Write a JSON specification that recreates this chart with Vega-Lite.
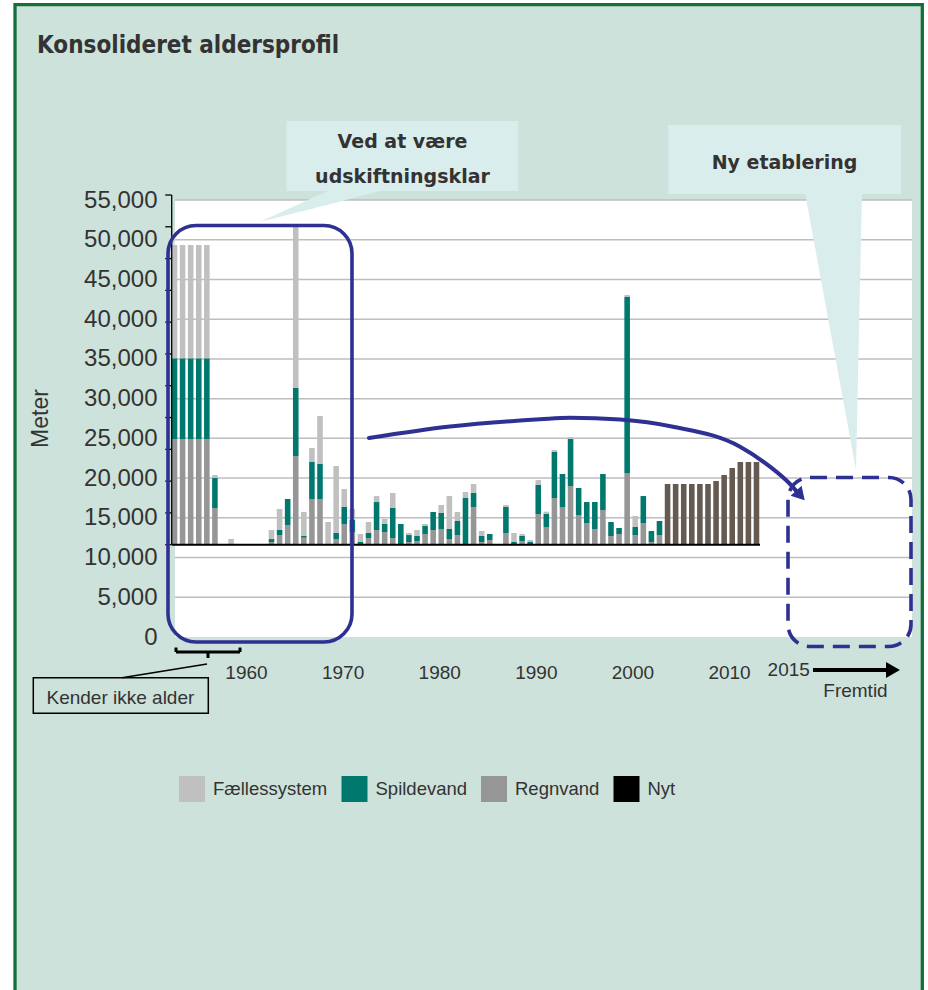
{
  "$schema": "https://vega.github.io/schema/vega-lite/v6.json",
  "width": 737,
  "height": 437,
  "autosize": {"type": "none"},
  "padding": {"left": 175, "top": 200, "right": 16, "bottom": 353},
  "background": "#ffffff",
  "view": {"stroke": null, "fill": null},
  "config": {
    "font": "Liberation Sans",
    "axis": {"labelFont": "Liberation Sans", "titleFont": "Liberation Sans"},
    "text": {"font": "Liberation Sans"}
  },
  "resolve": {"scale": {"x": "independent", "y": "independent", "color": "independent"}, "axis": {"x": "independent", "y": "independent"}, "legend": {"color": "independent"}},
  "layer": [
    {
      "data": {"values": [{"type": "Fællessystem"}, {"type": "Spildevand"}, {"type": "Regnvand"}, {"type": "Nyt"}]},
      "mark": {"type": "point", "shape": "square", "filled": true, "size": 676, "opacity": 1},
      "encoding": {
        "x": {"datum": 1990, "type": "quantitative", "scale": {"domain": [1952.651, 2028.94], "nice": false, "zero": false}, "axis": null},
        "y": {"datum": 20000, "type": "quantitative", "scale": {"domain": [0, 55000], "nice": false, "zero": false}, "axis": null},
        "color": {
          "field": "type", "type": "nominal",
          "scale": {"domain": ["Fællessystem", "Spildevand", "Regnvand", "Nyt"], "range": ["#C0C0C0", "#00786E", "#969696", "#000000"]},
          "legend": {
            "orient": "none",
            "legendX": 4,
            "legendY": 576,
            "direction": "horizontal",
            "title": null,
            "padding": 0,
            "symbolType": "square",
            "symbolSize": 676,
            "symbolStrokeWidth": 0,
            "symbolOpacity": 1,
            "labelFont": "Liberation Sans",
            "labelFontSize": 18.5,
            "labelColor": "#333333",
            "labelOffset": 8,
            "columnPadding": 13.5
          }
        }
      }
    },
    {
      "data": {"values": [{"x1": 1936.09, "x2": 2030.01, "y1": 79580, "y2": -45686}]},
      "mark": {"type": "rect", "fill": "#CDE2DA", "stroke": "#11703D", "strokeWidth": 3.3},
      "encoding": {
        "x": {"field": "x1", "type": "quantitative", "scale": {"domain": [1952.651, 2028.94], "nice": false, "zero": false}, "axis": null},
        "x2": {"field": "x2"},
        "y": {"field": "y1", "type": "quantitative", "scale": {"domain": [0, 55000], "nice": false, "zero": false}, "axis": null},
        "y2": {"field": "y2"}
      }
    },
    {
      "data": {"values": [{"x1": 1952.651, "x2": 2028.94, "y1": 0, "y2": 55000}]},
      "mark": {"type": "rect", "fill": "#ffffff"},
      "encoding": {
        "x": {"field": "x1", "type": "quantitative", "scale": {"domain": [1952.651, 2028.94], "nice": false, "zero": false}, "axis": null},
        "x2": {"field": "x2"},
        "y": {"field": "y1", "type": "quantitative", "scale": {"domain": [0, 55000], "nice": false, "zero": false}, "axis": null},
        "y2": {"field": "y2"}
      }
    },
    {
      "data": {"values": [{"v": 5000}, {"v": 10000}, {"v": 15000}, {"v": 20000}, {"v": 25000}, {"v": 30000}, {"v": 35000}, {"v": 40000}, {"v": 45000}, {"v": 50000}, {"v": 55000}]},
      "mark": {"type": "rule", "color": "#BEBEBE", "strokeWidth": 1.5},
      "encoding": {
        "y": {
          "field": "v", "type": "quantitative",
          "scale": {"domain": [0, 55000], "nice": false, "zero": false},
          "axis": {
            "orient": "left",
            "values": [0, 5000, 10000, 15000, 20000, 25000, 30000, 35000, 40000, 45000, 50000, 55000],
            "format": ",.0f",
            "labelFontSize": 24,
            "labelColor": "#333333",
            "labelPadding": 18,
            "ticks": false,
            "tickSize": 0,
            "domain": false,
            "grid": false,
            "zindex": 2,
            "title": "Meter",
            "titleFontSize": 23,
            "titleFontWeight": "normal",
            "titleColor": "#333333",
            "titleX": -135,
            "titleY": 218,
            "titleAngle": -90,
            "titleAlign": "center",
            "titleBaseline": "middle"
          }
        }
      }
    },
    {
      "data": {"values": [{"x": 1961.449, "top": 52269, "bot": 52269}, {"x": 1968.695, "top": 56259, "bot": 54463}, {"x": 1974.212, "top": 56259, "bot": 56259}]},
      "mark": {"type": "area", "color": "#DAEDED", "orient": "vertical", "interpolate": "linear"},
      "encoding": {
        "x": {"field": "x", "type": "quantitative", "scale": {"domain": [1952.651, 2028.94], "nice": false, "zero": false}, "axis": null},
        "y": {"field": "top", "type": "quantitative", "scale": {"domain": [0, 55000], "nice": false, "zero": false}, "axis": null},
        "y2": {"field": "bot"}
      }
    },
    {
      "data": {"values": [{"v": 55881, "l": 2017.864, "r": 2023.764}, {"v": 21018, "l": 2023.143, "r": 2023.143}]},
      "mark": {"type": "area", "color": "#DAEDED", "orient": "horizontal", "interpolate": "linear"},
      "encoding": {
        "y": {"field": "v", "type": "quantitative", "scale": {"domain": [0, 55000], "nice": false, "zero": false}, "axis": null},
        "x": {"field": "l", "type": "quantitative", "scale": {"domain": [1952.651, 2028.94], "nice": false, "zero": false}, "axis": null},
        "x2": {"field": "r"}
      }
    },
    {
      "data": {"values": [
        {"aar": "Ukendt 1", "type": "Regnvand", "meter": 16625}, {"aar": "Ukendt 1", "type": "Spildevand", "meter": 12690}, {"aar": "Ukendt 1", "type": "Fællessystem", "meter": 17820},
        {"aar": "Ukendt 2", "type": "Regnvand", "meter": 16625}, {"aar": "Ukendt 2", "type": "Spildevand", "meter": 12690}, {"aar": "Ukendt 2", "type": "Fællessystem", "meter": 17820},
        {"aar": "Ukendt 3", "type": "Regnvand", "meter": 16625}, {"aar": "Ukendt 3", "type": "Spildevand", "meter": 12690}, {"aar": "Ukendt 3", "type": "Fællessystem", "meter": 17820},
        {"aar": "Ukendt 4", "type": "Regnvand", "meter": 16625}, {"aar": "Ukendt 4", "type": "Spildevand", "meter": 12690}, {"aar": "Ukendt 4", "type": "Fællessystem", "meter": 17820},
        {"aar": "Ukendt 5", "type": "Regnvand", "meter": 16625}, {"aar": "Ukendt 5", "type": "Spildevand", "meter": 12690}, {"aar": "Ukendt 5", "type": "Fællessystem", "meter": 17820},
        {"aar": "1947", "type": "Regnvand", "meter": 5770}, {"aar": "1947", "type": "Spildevand", "meter": 4720}, {"aar": "1947", "type": "Fællessystem", "meter": 470},
        {"aar": "1949", "type": "Fællessystem", "meter": 900},
        {"aar": "1954", "type": "Regnvand", "meter": 420}, {"aar": "1954", "type": "Spildevand", "meter": 470}, {"aar": "1954", "type": "Fællessystem", "meter": 1415},
        {"aar": "1955", "type": "Regnvand", "meter": 1525}, {"aar": "1955", "type": "Spildevand", "meter": 790}, {"aar": "1955", "type": "Fællessystem", "meter": 3300},
        {"aar": "1956", "type": "Regnvand", "meter": 3100}, {"aar": "1956", "type": "Spildevand", "meter": 4090},
        {"aar": "1957", "type": "Regnvand", "meter": 13950}, {"aar": "1957", "type": "Spildevand", "meter": 10695}, {"aar": "1957", "type": "Fællessystem", "meter": 25370},
        {"aar": "1958", "type": "Regnvand", "meter": 1100}, {"aar": "1958", "type": "Spildevand", "meter": 315}, {"aar": "1958", "type": "Fællessystem", "meter": 3730},
        {"aar": "1959", "type": "Regnvand", "meter": 7190}, {"aar": "1959", "type": "Spildevand", "meter": 5820}, {"aar": "1959", "type": "Fællessystem", "meter": 2200},
        {"aar": "1960", "type": "Regnvand", "meter": 7190}, {"aar": "1960", "type": "Spildevand", "meter": 5505}, {"aar": "1960", "type": "Fællessystem", "meter": 7550},
        {"aar": "1961", "type": "Fællessystem", "meter": 3570},
        {"aar": "1962", "type": "Regnvand", "meter": 895}, {"aar": "1962", "type": "Spildevand", "meter": 945}, {"aar": "1962", "type": "Fællessystem", "meter": 10540},
        {"aar": "1963", "type": "Regnvand", "meter": 3255}, {"aar": "1963", "type": "Spildevand", "meter": 2675}, {"aar": "1963", "type": "Fællessystem", "meter": 2830},
        {"aar": "1964", "type": "Regnvand", "meter": 2000}, {"aar": "1964", "type": "Spildevand", "meter": 1890}, {"aar": "1964", "type": "Fællessystem", "meter": 1730},
        {"aar": "1965", "type": "Regnvand", "meter": 110}, {"aar": "1965", "type": "Spildevand", "meter": 315}, {"aar": "1965", "type": "Fællessystem", "meter": 1260},
        {"aar": "1966", "type": "Regnvand", "meter": 1050}, {"aar": "1966", "type": "Spildevand", "meter": 790}, {"aar": "1966", "type": "Fællessystem", "meter": 1730},
        {"aar": "1967", "type": "Regnvand", "meter": 2310}, {"aar": "1967", "type": "Spildevand", "meter": 4400}, {"aar": "1967", "type": "Fællessystem", "meter": 945},
        {"aar": "1968", "type": "Regnvand", "meter": 2000}, {"aar": "1968", "type": "Spildevand", "meter": 1260}, {"aar": "1968", "type": "Fællessystem", "meter": 790},
        {"aar": "1969", "type": "Regnvand", "meter": 1050}, {"aar": "1969", "type": "Spildevand", "meter": 4720}, {"aar": "1969", "type": "Fællessystem", "meter": 2360},
        {"aar": "1970", "type": "Spildevand", "meter": 3255},
        {"aar": "1971", "type": "Regnvand", "meter": 420}, {"aar": "1971", "type": "Spildevand", "meter": 1100}, {"aar": "1971", "type": "Fællessystem", "meter": 315},
        {"aar": "1972", "type": "Regnvand", "meter": 580}, {"aar": "1972", "type": "Spildevand", "meter": 790}, {"aar": "1972", "type": "Fællessystem", "meter": 945},
        {"aar": "1973", "type": "Regnvand", "meter": 1680}, {"aar": "1973", "type": "Spildevand", "meter": 1260}, {"aar": "1973", "type": "Fællessystem", "meter": 315},
        {"aar": "1974", "type": "Regnvand", "meter": 2310}, {"aar": "1974", "type": "Spildevand", "meter": 2830},
        {"aar": "1975", "type": "Regnvand", "meter": 2470}, {"aar": "1975", "type": "Spildevand", "meter": 2515}, {"aar": "1975", "type": "Fællessystem", "meter": 1260},
        {"aar": "1976", "type": "Regnvand", "meter": 895}, {"aar": "1976", "type": "Spildevand", "meter": 1575}, {"aar": "1976", "type": "Fællessystem", "meter": 5190},
        {"aar": "1977", "type": "Regnvand", "meter": 1525}, {"aar": "1977", "type": "Spildevand", "meter": 2200}, {"aar": "1977", "type": "Fællessystem", "meter": 1415},
        {"aar": "1978", "type": "Spildevand", "meter": 7345}, {"aar": "1978", "type": "Fællessystem", "meter": 945},
        {"aar": "1979", "type": "Regnvand", "meter": 5930}, {"aar": "1979", "type": "Spildevand", "meter": 2200}, {"aar": "1979", "type": "Fællessystem", "meter": 1415},
        {"aar": "1980", "type": "Regnvand", "meter": 420}, {"aar": "1980", "type": "Spildevand", "meter": 945}, {"aar": "1980", "type": "Fællessystem", "meter": 790},
        {"aar": "1981", "type": "Regnvand", "meter": 740}, {"aar": "1981", "type": "Spildevand", "meter": 945},
        {"aar": "1983", "type": "Regnvand", "meter": 1840}, {"aar": "1983", "type": "Spildevand", "meter": 4090}, {"aar": "1983", "type": "Fællessystem", "meter": 315},
        {"aar": "1984", "type": "Regnvand", "meter": 110}, {"aar": "1984", "type": "Spildevand", "meter": 315}, {"aar": "1984", "type": "Fællessystem", "meter": 1415},
        {"aar": "1985", "type": "Regnvand", "meter": 580}, {"aar": "1985", "type": "Spildevand", "meter": 790}, {"aar": "1985", "type": "Fællessystem", "meter": 315},
        {"aar": "1986", "type": "Regnvand", "meter": 110}, {"aar": "1986", "type": "Spildevand", "meter": 315}, {"aar": "1986", "type": "Fællessystem", "meter": 315},
        {"aar": "1987", "type": "Regnvand", "meter": 4830}, {"aar": "1987", "type": "Spildevand", "meter": 4560}, {"aar": "1987", "type": "Fællessystem", "meter": 790},
        {"aar": "1988", "type": "Regnvand", "meter": 2785}, {"aar": "1988", "type": "Spildevand", "meter": 2045}, {"aar": "1988", "type": "Fællessystem", "meter": 360},
        {"aar": "1989", "type": "Regnvand", "meter": 7345}, {"aar": "1989", "type": "Spildevand", "meter": 7235}, {"aar": "1989", "type": "Fællessystem", "meter": 315},
        {"aar": "1990", "type": "Regnvand", "meter": 5930}, {"aar": "1990", "type": "Spildevand", "meter": 5190},
        {"aar": "1991", "type": "Regnvand", "meter": 9230}, {"aar": "1991", "type": "Spildevand", "meter": 7390}, {"aar": "1991", "type": "Fællessystem", "meter": 315},
        {"aar": "1992", "type": "Regnvand", "meter": 4670}, {"aar": "1992", "type": "Spildevand", "meter": 4245},
        {"aar": "1993", "type": "Regnvand", "meter": 3410}, {"aar": "1993", "type": "Spildevand", "meter": 3300},
        {"aar": "1994", "type": "Regnvand", "meter": 2470}, {"aar": "1994", "type": "Spildevand", "meter": 4245},
        {"aar": "1995", "type": "Regnvand", "meter": 5460}, {"aar": "1995", "type": "Spildevand", "meter": 5660},
        {"aar": "1996", "type": "Regnvand", "meter": 1370}, {"aar": "1996", "type": "Spildevand", "meter": 2200},
        {"aar": "1997", "type": "Regnvand", "meter": 1680}, {"aar": "1997", "type": "Spildevand", "meter": 945},
        {"aar": "1998", "type": "Regnvand", "meter": 11275}, {"aar": "1998", "type": "Spildevand", "meter": 27680}, {"aar": "1998", "type": "Fællessystem", "meter": 315},
        {"aar": "1999", "type": "Regnvand", "meter": 1525}, {"aar": "1999", "type": "Spildevand", "meter": 1260}, {"aar": "1999", "type": "Fællessystem", "meter": 1730},
        {"aar": "2000", "type": "Regnvand", "meter": 3410}, {"aar": "2000", "type": "Spildevand", "meter": 4245},
        {"aar": "2001", "type": "Regnvand", "meter": 420}, {"aar": "2001", "type": "Spildevand", "meter": 1730},
        {"aar": "2002", "type": "Regnvand", "meter": 1525}, {"aar": "2002", "type": "Spildevand", "meter": 2200},
        {"aar": "2003", "type": "Nyt", "meter": 9545}, {"aar": "2004", "type": "Nyt", "meter": 9545}, {"aar": "2005", "type": "Nyt", "meter": 9545},
        {"aar": "2006", "type": "Nyt", "meter": 9545}, {"aar": "2007", "type": "Nyt", "meter": 9545}, {"aar": "2008", "type": "Nyt", "meter": 9545},
        {"aar": "2009", "type": "Nyt", "meter": 10020}, {"aar": "2010", "type": "Nyt", "meter": 10960}, {"aar": "2011", "type": "Nyt", "meter": 12060},
        {"aar": "2012", "type": "Nyt", "meter": 13005}, {"aar": "2013", "type": "Nyt", "meter": 13005}, {"aar": "2014", "type": "Nyt", "meter": 13005}
      ]},
      "transform": [
        {"lookup": "type", "from": {"data": {"values": [{"type": "Regnvand", "rang": 1}, {"type": "Spildevand", "rang": 2}, {"type": "Fællessystem", "rang": 3}, {"type": "Nyt", "rang": 4}]}, "key": "type", "fields": ["rang"]}}
      ],
      "mark": {"type": "bar"},
      "encoding": {
        "x": {
          "field": "aar", "type": "nominal",
          "scale": {
            "domain": ["Ukendt 1", "Ukendt 2", "Ukendt 3", "Ukendt 4", "Ukendt 5", "1947", "1948", "1949", "1950", "1951", "1952", "1953", "1954", "1955", "1956", "1957", "1958", "1959", "1960", "1961", "1962", "1963", "1964", "1965", "1966", "1967", "1968", "1969", "1970", "1971", "1972", "1973", "1974", "1975", "1976", "1977", "1978", "1979", "1980", "1981", "1982", "1983", "1984", "1985", "1986", "1987", "1988", "1989", "1990", "1991", "1992", "1993", "1994", "1995", "1996", "1997", "1998", "1999", "2000", "2001", "2002", "2003", "2004", "2005", "2006", "2007", "2008", "2009", "2010", "2011", "2012", "2013", "2014"],
            "range": [-4.54, 585.52],
            "paddingInner": 0.31,
            "paddingOuter": 0.155
          },
          "axis": null
        },
        "y": {"field": "meter", "type": "quantitative", "stack": "zero", "scale": {"domain": [-14517, 54214], "nice": false, "zero": false}, "axis": null},
        "order": {"field": "rang", "type": "quantitative", "sort": "ascending"},
        "color": {
          "field": "type", "type": "nominal",
          "scale": {"domain": ["Fællessystem", "Spildevand", "Regnvand", "Nyt"], "range": ["#C0C0C0", "#00786E", "#969696", "#645A52"]},
          "legend": null
        }
      }
    },
    {
      "data": {"values": [{"v": 0}, {"v": 5000}, {"v": 10000}, {"v": 15000}, {"v": 20000}, {"v": 25000}, {"v": 30000}, {"v": 35000}, {"v": 40000}, {"v": 45000}, {"v": 50000}, {"v": 55000}]},
      "mark": {"type": "rule", "color": "#000000", "strokeWidth": 1.3},
      "encoding": {
        "y": {"field": "v", "type": "quantitative", "scale": {"domain": [-14517, 54214], "nice": false, "zero": false}, "axis": null},
        "x": {"datum": 1951.64, "type": "quantitative", "scale": {"domain": [1952.651, 2028.94], "nice": false, "zero": false}, "axis": null},
        "x2": {"datum": 1952.31}
      }
    },
    {
      "data": {"values": [{}]},
      "mark": {"type": "rule", "color": "#000000", "strokeWidth": 1.3},
      "encoding": {
        "y": {"datum": 0, "type": "quantitative", "scale": {"domain": [-14517, 54214], "nice": false, "zero": false}, "axis": null},
        "y2": {"datum": 55000},
        "x": {"datum": 1952.31, "type": "quantitative", "scale": {"domain": [1952.651, 2028.94], "nice": false, "zero": false}, "axis": null}
      }
    },
    {
      "data": {"values": [{}]},
      "mark": {"type": "rule", "color": "#000000", "strokeWidth": 2},
      "encoding": {
        "y": {"datum": 0, "type": "quantitative", "scale": {"domain": [-14517, 54214], "nice": false, "zero": false}, "axis": null},
        "x": {"datum": 1952.34, "type": "quantitative", "scale": {"domain": [1952.651, 2028.94], "nice": false, "zero": false}, "axis": null},
        "x2": {"datum": 2013.21}
      }
    },
    {
      "data": {"values": [{"x1": 1964.192, "x2": 1988.186, "y1": 64943, "y2": 56133}, {"x1": 2003.714, "x2": 2027.801, "y1": 64439, "y2": 55755}]},
      "mark": {"type": "rect", "fill": "#DAEDED"},
      "encoding": {
        "x": {"field": "x1", "type": "quantitative", "scale": {"domain": [1952.651, 2028.94], "nice": false, "zero": false}, "axis": null},
        "x2": {"field": "x2"},
        "y": {"field": "y1", "type": "quantitative", "scale": {"domain": [0, 55000], "nice": false, "zero": false}, "axis": null},
        "y2": {"field": "y2"}
      }
    },
    {
      "data": {"values": [{"t": "Ved at være", "x": 1976.2, "v": 61507}, {"t": "udskiftningsklar", "x": 1976.2, "v": 57102}, {"t": "Ny etablering", "x": 2015.742, "v": 58864}]},
      "mark": {"type": "text", "font": "DejaVu Sans", "fontWeight": "bold", "fontSize": 19, "color": "#333333", "align": "center", "baseline": "alphabetic"},
      "encoding": {
        "text": {"field": "t"},
        "x": {"field": "x", "type": "quantitative", "scale": {"domain": [1952.651, 2028.94], "nice": false, "zero": false}, "axis": null},
        "y": {"field": "v", "type": "quantitative", "scale": {"domain": [0, 55000], "nice": false, "zero": false}, "axis": null}
      }
    },
    {
      "data": {"values": [{"x1": 1951.926, "x2": 1970.972, "y1": 51791, "y2": -629}]},
      "mark": {"type": "rect", "fill": null, "stroke": "#2E3192", "strokeWidth": 3.6, "cornerRadius": 28},
      "encoding": {
        "x": {
          "field": "x1", "type": "quantitative",
          "scale": {"domain": [1952.651, 2028.94], "nice": false, "zero": false},
          "axis": {
            "orient": "bottom",
            "values": [1960, 1970, 1980, 1990, 2000, 2010],
            "format": "d",
            "labelFontSize": 19,
            "labelColor": "#333333",
            "labelPadding": 26,
            "ticks": false,
            "tickSize": 0,
            "domain": false,
            "grid": false,
            "zindex": 2,
            "title": null
          }
        },
        "x2": {"field": "x2"},
        "y": {"field": "y1", "type": "quantitative", "scale": {"domain": [0, 55000], "nice": false, "zero": false}, "axis": null},
        "y2": {"field": "y2"}
      }
    },
    {
      "data": {"values": [{"x1": 2016.104, "x2": 2028.836, "y1": 20074, "y2": -1196}]},
      "mark": {"type": "rect", "fill": null, "stroke": "#2E3192", "strokeWidth": 3.6, "cornerRadius": 22, "strokeDash": [17, 9]},
      "encoding": {
        "x": {"field": "x1", "type": "quantitative", "scale": {"domain": [1952.651, 2028.94], "nice": false, "zero": false}, "axis": null},
        "x2": {"field": "x2"},
        "y": {"field": "y1", "type": "quantitative", "scale": {"domain": [0, 55000], "nice": false, "zero": false}, "axis": null},
        "y2": {"field": "y2"}
      }
    },
    {
      "data": {"values": [
        {"x": 1972.73, "v": 25046}, {"x": 1981.12, "v": 26493}, {"x": 1990.43, "v": 27399}, {"x": 1993.54, "v": 27601},
        {"x": 1998.71, "v": 27374}, {"x": 2004.2, "v": 26468}, {"x": 2011.14, "v": 23951}, {"x": 2014.24, "v": 21434},
        {"x": 2016.31, "v": 19256}, {"x": 2017.14, "v": 18124}
      ]},
      "mark": {"type": "line", "color": "#2E3192", "strokeWidth": 4, "interpolate": "monotone", "strokeCap": "round"},
      "encoding": {
        "x": {"field": "x", "type": "quantitative", "scale": {"domain": [1952.651, 2028.94], "nice": false, "zero": false}, "axis": null},
        "y": {"field": "v", "type": "quantitative", "scale": {"domain": [0, 55000], "nice": false, "zero": false}, "axis": null}
      }
    },
    {
      "data": {"values": [{}]},
      "mark": {"type": "point", "shape": "triangle", "filled": true, "color": "#2E3192", "opacity": 1, "size": 220, "angle": 138},
      "encoding": {
        "x": {"datum": 2017.24, "type": "quantitative", "scale": {"domain": [1952.651, 2028.94], "nice": false, "zero": false}, "axis": null},
        "y": {"datum": 17998, "type": "quantitative", "scale": {"domain": [0, 55000], "nice": false, "zero": false}, "axis": null}
      }
    },
    {
      "data": {"values": [
        {"x1": 1952.754, "x2": 1952.754, "y1": -1322, "y2": -1888},
        {"x1": 1952.754, "x2": 1959.379, "y1": -1888, "y2": -1888},
        {"x1": 1959.379, "x2": 1959.379, "y1": -1888, "y2": -1322},
        {"x1": 1956.067, "x2": 1956.067, "y1": -1888, "y2": -2643}
      ]},
      "mark": {"type": "rule", "color": "#000000", "strokeWidth": 3},
      "encoding": {
        "x": {"field": "x1", "type": "quantitative", "scale": {"domain": [1952.651, 2028.94], "nice": false, "zero": false}, "axis": null},
        "x2": {"field": "x2"},
        "y": {"field": "y1", "type": "quantitative", "scale": {"domain": [0, 55000], "nice": false, "zero": false}, "axis": null},
        "y2": {"field": "y2"}
      }
    },
    {
      "data": {"values": [{"x1": 1955.963, "x2": 1947.164, "y1": -3398, "y2": -5122}]},
      "mark": {"type": "rule", "color": "#000000", "strokeWidth": 1.5},
      "encoding": {
        "x": {"field": "x1", "type": "quantitative", "scale": {"domain": [1952.651, 2028.94], "nice": false, "zero": false}, "axis": null},
        "x2": {"field": "x2"},
        "y": {"field": "y1", "type": "quantitative", "scale": {"domain": [0, 55000], "nice": false, "zero": false}, "axis": null},
        "y2": {"field": "y2"}
      }
    },
    {
      "data": {"values": [{"x1": 1937.983, "x2": 1956.098, "y1": -5122, "y2": -9603}]},
      "mark": {"type": "rect", "fill": null, "stroke": "#000000", "strokeWidth": 1.5},
      "encoding": {
        "x": {"field": "x1", "type": "quantitative", "scale": {"domain": [1952.651, 2028.94], "nice": false, "zero": false}, "axis": null},
        "x2": {"field": "x2"},
        "y": {"field": "y1", "type": "quantitative", "scale": {"domain": [0, 55000], "nice": false, "zero": false}, "axis": null},
        "y2": {"field": "y2"}
      }
    },
    {
      "data": {"values": [{"x1": 2018.69, "x2": 2026.25, "y1": -4153}]},
      "mark": {"type": "rule", "color": "#000000", "strokeWidth": 4},
      "encoding": {
        "x": {"field": "x1", "type": "quantitative", "scale": {"domain": [1952.651, 2028.94], "nice": false, "zero": false}, "axis": null},
        "x2": {"field": "x2"},
        "y": {"field": "y1", "type": "quantitative", "scale": {"domain": [0, 55000], "nice": false, "zero": false}, "axis": null}
      }
    },
    {
      "data": {"values": [{}]},
      "mark": {"type": "point", "shape": "triangle-right", "filled": true, "color": "#000000", "opacity": 1, "size": 260},
      "encoding": {
        "x": {"datum": 2026.97, "type": "quantitative", "scale": {"domain": [1952.651, 2028.94], "nice": false, "zero": false}, "axis": null},
        "y": {"datum": -4153, "type": "quantitative", "scale": {"domain": [0, 55000], "nice": false, "zero": false}, "axis": null}
      }
    },
    {
      "data": {"values": [
        {"t": "Kender ikke alder", "x": 1947.0, "v": -8470},
        {"t": "Fremtid", "x": 2023.09, "v": -7514}
      ]},
      "mark": {"type": "text", "fontSize": 19, "color": "#333333", "align": "center", "baseline": "alphabetic"},
      "encoding": {
        "text": {"field": "t"},
        "x": {"field": "x", "type": "quantitative", "scale": {"domain": [1952.651, 2028.94], "nice": false, "zero": false}, "axis": null},
        "y": {"field": "v", "type": "quantitative", "scale": {"domain": [0, 55000], "nice": false, "zero": false}, "axis": null}
      }
    },
    {
      "data": {"values": [{"t": "2015", "x": 2016.18, "v": -4191}]},
      "mark": {"type": "text", "fontSize": 19, "color": "#333333", "align": "center", "baseline": "middle"},
      "encoding": {
        "text": {"field": "t"},
        "x": {"field": "x", "type": "quantitative", "scale": {"domain": [1952.651, 2028.94], "nice": false, "zero": false}, "axis": null},
        "y": {"field": "v", "type": "quantitative", "scale": {"domain": [0, 55000], "nice": false, "zero": false}, "axis": null}
      }
    },
    {
      "data": {"values": [{"t": "Konsolideret aldersprofil", "x": 1938.37, "v": 73501}]},
      "mark": {"type": "text", "font": "DejaVu Sans Condensed, DejaVu Sans", "fontWeight": "bold", "fontSize": 24, "color": "#333333", "align": "left", "baseline": "alphabetic"},
      "encoding": {
        "text": {"field": "t"},
        "x": {"field": "x", "type": "quantitative", "scale": {"domain": [1952.651, 2028.94], "nice": false, "zero": false}, "axis": null},
        "y": {"field": "v", "type": "quantitative", "scale": {"domain": [0, 55000], "nice": false, "zero": false}, "axis": null}
      }
    }
  ]
}
